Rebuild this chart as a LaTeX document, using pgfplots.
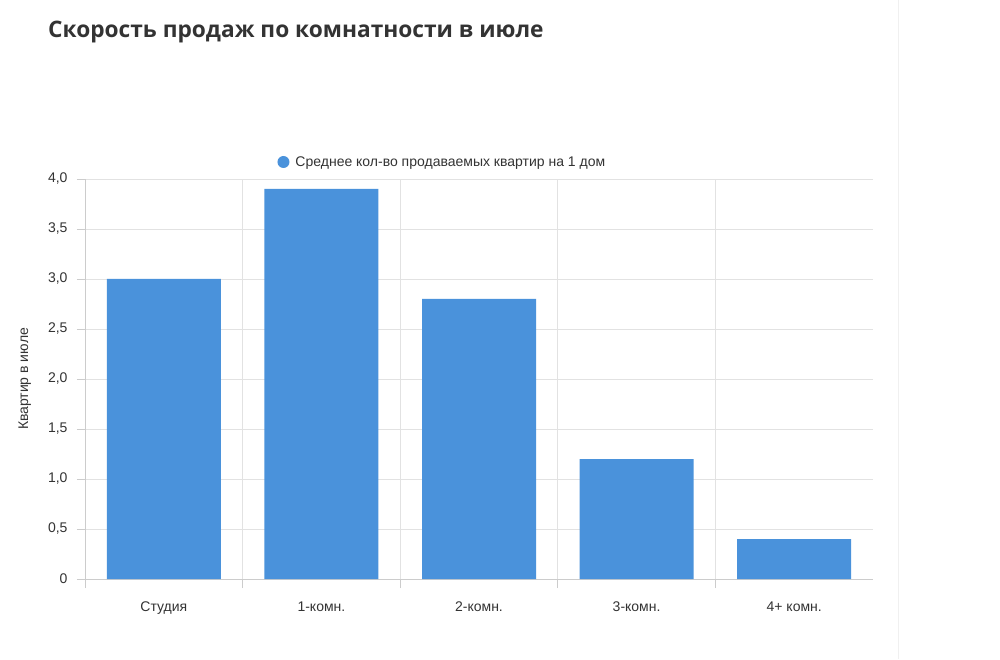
\documentclass[border=0pt]{standalone}
\usepackage{fontspec}
\setmainfont{Liberation Sans}
\newfontfamily\titlefont{Open Sans}
\usepackage{pgfplots}
\pgfplotsset{compat=1.18}
\definecolor{barblue}{RGB}{74,146,219}
\definecolor{txt}{RGB}{51,51,51}
\definecolor{gridc}{RGB}{226,226,226}
\definecolor{axc}{RGB}{204,204,204}
\begin{document}
\begin{tikzpicture}
\path[use as bounding box, fill=white] (0pt,0pt) rectangle (1000pt,659pt);
\draw[color=gray!12, line width=1pt] (898.5pt,0pt) -- (898.5pt,659pt);
\node[anchor=base west, font=\titlefont\bfseries\fontsize{22.7}{27}\selectfont, text=txt, inner sep=0pt] at (48pt,621pt) {Скорость продаж по комнатности в июле};
\begin{axis}[
  at={(85pt,80pt)}, anchor=south west,
  width=788pt, height=400pt, scale only axis,
  xmin=-0.5, xmax=4.5, ymin=0, ymax=4,
  axis lines=left, axis line style={axc, -, line width=0.8pt},
  ytick={0,0.5,...,4},
  yticklabels={0,{0,5},{1,0},{1,5},{2,0},{2,5},{3,0},{3,5},{4,0}},
  ymajorgrids, grid style={gridc, line width=0.8pt},
  minor grid style={gridc, line width=0.8pt},
  xtick={0,1,2,3,4},
  xticklabels={Студия,1-комн.,2-комн.,3-комн.,4+ комн.},
  minor xtick={-0.5,0.5,1.5,2.5,3.5},
  xminorgrids,
  major x tick style={draw=none},
  minor x tick style={draw=axc, line width=0.8pt},
  y tick style={draw=axc, line width=0.8pt},
  major tick length=8pt, minor tick length=9pt, tick align=outside,
  tick label style={font=\fontsize{14}{16}\selectfont, text=txt},
  yticklabel style={xshift=-6pt},
  xticklabel style={yshift=-11pt},
  ylabel={Квартир в июле},
  every axis y label/.style={at={(axis description cs:-0.0765,0.5)}, rotate=90, anchor=center, font=\fontsize{14}{16}\selectfont, text=txt},
  legend style={at={(0.4535,1.0425)}, anchor=center, draw=none, fill=none, font=\fontsize{14}{16}\selectfont, text=txt, inner sep=0pt},
  ybar, bar width=114pt, bar shift=0pt,
]
\addplot[fill=barblue, draw=none, legend image code/.code={\fill[barblue] (0pt,0pt) circle (6pt); \path (10pt,0pt);}] coordinates {(0,3.0) (1,3.9) (2,2.8) (3,1.2) (4,0.4)};
\addlegendentry{Среднее кол-во продаваемых квартир на 1 дом}
\end{axis}
\end{tikzpicture}
\end{document}
